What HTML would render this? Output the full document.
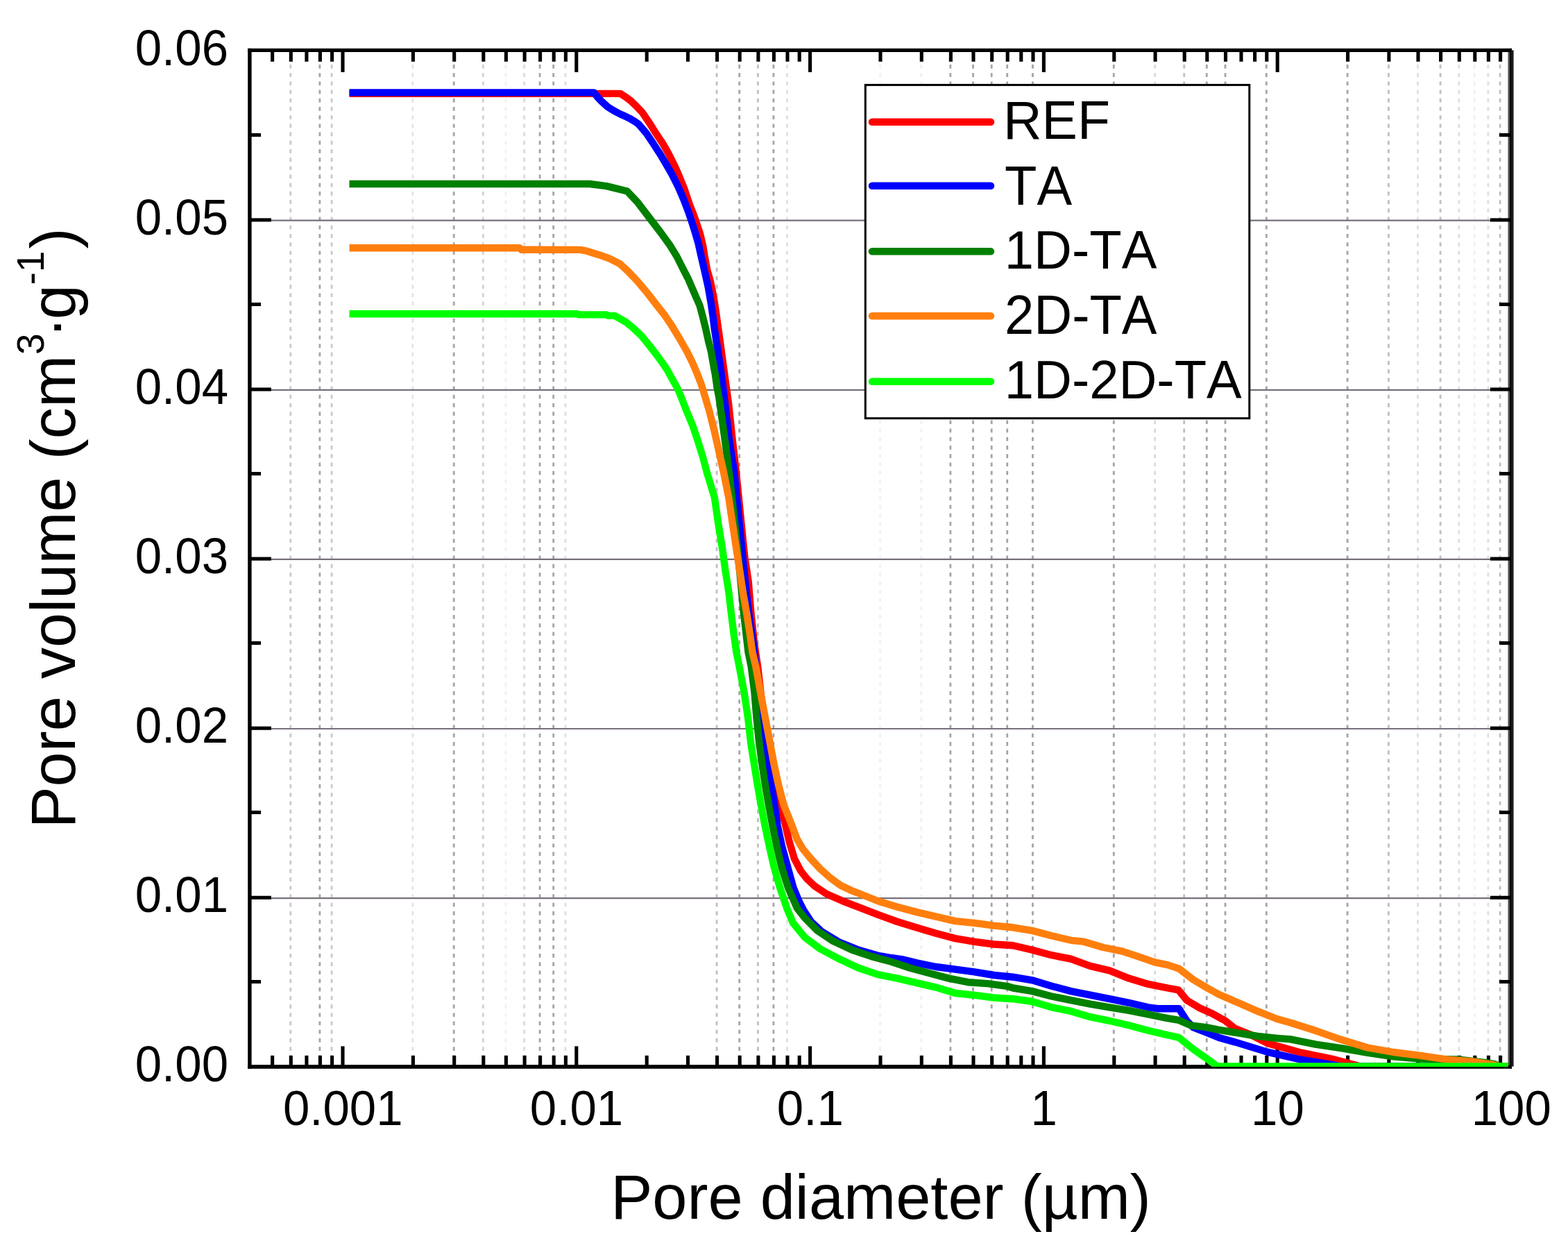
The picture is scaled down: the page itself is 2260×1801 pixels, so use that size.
<!DOCTYPE html>
<html lang="en"><head><meta charset="utf-8"><title>Pore volume vs pore diameter</title>
<style>html,body{margin:0;padding:0;background:#fff}body{width:2260px;height:1801px}svg{display:block}text{font-family:"Liberation Sans",sans-serif;fill:#000;font-kerning:none}</style></head><body>
<svg width="2260" height="1801" viewBox="0 0 2260 1801">
<rect width="2260" height="1801" fill="#fff"/>
<defs><clipPath id="plot"><rect x="362.6" y="75" width="1811.1" height="1462.0"/></clipPath></defs>
<g fill="none" stroke-dasharray="5.7 6.5" stroke-dashoffset="3.9">
<line x1="418.8" y1="72.5" x2="418.8" y2="1536.5" stroke="#a6a3a6" stroke-width="2.8" stroke-opacity="0.60"/>
<line x1="460.9" y1="72.5" x2="460.9" y2="1536.5" stroke="#a6a3a6" stroke-width="2.8" stroke-opacity="1.00"/>
<line x1="478.1" y1="72.5" x2="478.1" y2="1536.5" stroke="#a6a3a6" stroke-width="2.8" stroke-opacity="0.60"/>
<line x1="594.9" y1="72.5" x2="594.9" y2="1536.5" stroke="#a6a3a6" stroke-width="2.8" stroke-opacity="0.30"/>
<line x1="654.2" y1="72.5" x2="654.2" y2="1536.5" stroke="#a6a3a6" stroke-width="2.8" stroke-opacity="1.00"/>
<line x1="696.3" y1="72.5" x2="696.3" y2="1536.5" stroke="#a6a3a6" stroke-width="2.8" stroke-opacity="0.50"/>
<line x1="728.9" y1="72.5" x2="728.9" y2="1536.5" stroke="#a6a3a6" stroke-width="2.8" stroke-opacity="0.15"/>
<line x1="755.6" y1="72.5" x2="755.6" y2="1536.5" stroke="#a6a3a6" stroke-width="2.8" stroke-opacity="0.40"/>
<line x1="778.1" y1="72.5" x2="778.1" y2="1536.5" stroke="#a6a3a6" stroke-width="2.8" stroke-opacity="1.00"/>
<line x1="797.7" y1="72.5" x2="797.7" y2="1536.5" stroke="#a6a3a6" stroke-width="2.8" stroke-opacity="1.00"/>
<line x1="814.9" y1="72.5" x2="814.9" y2="1536.5" stroke="#a6a3a6" stroke-width="2.8" stroke-opacity="0.35"/>
<line x1="1033.1" y1="72.5" x2="1033.1" y2="1536.5" stroke="#a6a3a6" stroke-width="2.8" stroke-opacity="0.70"/>
<line x1="1065.7" y1="72.5" x2="1065.7" y2="1536.5" stroke="#a6a3a6" stroke-width="2.8" stroke-opacity="1.00"/>
<line x1="1092.4" y1="72.5" x2="1092.4" y2="1536.5" stroke="#a6a3a6" stroke-width="2.8" stroke-opacity="0.70"/>
<line x1="1114.9" y1="72.5" x2="1114.9" y2="1536.5" stroke="#a6a3a6" stroke-width="2.8" stroke-opacity="1.00"/>
<line x1="1134.5" y1="72.5" x2="1134.5" y2="1536.5" stroke="#a6a3a6" stroke-width="2.8" stroke-opacity="0.35"/>
<line x1="1268.5" y1="72.5" x2="1268.5" y2="1536.5" stroke="#a6a3a6" stroke-width="2.8" stroke-opacity="0.15"/>
<line x1="1327.8" y1="72.5" x2="1327.8" y2="1536.5" stroke="#a6a3a6" stroke-width="2.8" stroke-opacity="0.15"/>
<line x1="1369.9" y1="72.5" x2="1369.9" y2="1536.5" stroke="#a6a3a6" stroke-width="2.8" stroke-opacity="1.00"/>
<line x1="1402.5" y1="72.5" x2="1402.5" y2="1536.5" stroke="#a6a3a6" stroke-width="2.8" stroke-opacity="1.00"/>
<line x1="1429.2" y1="72.5" x2="1429.2" y2="1536.5" stroke="#a6a3a6" stroke-width="2.8" stroke-opacity="1.00"/>
<line x1="1451.7" y1="72.5" x2="1451.7" y2="1536.5" stroke="#a6a3a6" stroke-width="2.8" stroke-opacity="1.00"/>
<line x1="1488.5" y1="72.5" x2="1488.5" y2="1536.5" stroke="#a6a3a6" stroke-width="2.8" stroke-opacity="1.00"/>
<line x1="1605.3" y1="72.5" x2="1605.3" y2="1536.5" stroke="#a6a3a6" stroke-width="2.8" stroke-opacity="1.00"/>
<line x1="1664.6" y1="72.5" x2="1664.6" y2="1536.5" stroke="#a6a3a6" stroke-width="2.8" stroke-opacity="0.40"/>
<line x1="1706.7" y1="72.5" x2="1706.7" y2="1536.5" stroke="#a6a3a6" stroke-width="2.8" stroke-opacity="0.70"/>
<line x1="1739.3" y1="72.5" x2="1739.3" y2="1536.5" stroke="#a6a3a6" stroke-width="2.8" stroke-opacity="1.00"/>
<line x1="1766.0" y1="72.5" x2="1766.0" y2="1536.5" stroke="#a6a3a6" stroke-width="2.8" stroke-opacity="1.00"/>
<line x1="1825.3" y1="72.5" x2="1825.3" y2="1536.5" stroke="#a6a3a6" stroke-width="2.8" stroke-opacity="1.00"/>
<line x1="1942.1" y1="72.5" x2="1942.1" y2="1536.5" stroke="#a6a3a6" stroke-width="2.8" stroke-opacity="1.00"/>
<line x1="2001.4" y1="72.5" x2="2001.4" y2="1536.5" stroke="#a6a3a6" stroke-width="2.8" stroke-opacity="0.70"/>
<line x1="2043.5" y1="72.5" x2="2043.5" y2="1536.5" stroke="#a6a3a6" stroke-width="2.8" stroke-opacity="0.35"/>
<line x1="2076.1" y1="72.5" x2="2076.1" y2="1536.5" stroke="#a6a3a6" stroke-width="2.8" stroke-opacity="0.70"/>
<line x1="2102.8" y1="72.5" x2="2102.8" y2="1536.5" stroke="#a6a3a6" stroke-width="2.8" stroke-opacity="0.35"/>
<line x1="2125.3" y1="72.5" x2="2125.3" y2="1536.5" stroke="#a6a3a6" stroke-width="2.8" stroke-opacity="0.15"/>
<line x1="2144.9" y1="72.5" x2="2144.9" y2="1536.5" stroke="#a6a3a6" stroke-width="2.8" stroke-opacity="0.35"/>
<line x1="2162.1" y1="72.5" x2="2162.1" y2="1536.5" stroke="#a6a3a6" stroke-width="2.8" stroke-opacity="0.70"/>
</g>
<g stroke="#77707a" stroke-width="2.2">
<line x1="360.0" y1="317.7" x2="2178.0" y2="317.7"/>
<line x1="360.0" y1="561.8" x2="2178.0" y2="561.8"/>
<line x1="360.0" y1="805.9" x2="2178.0" y2="805.9"/>
<line x1="360.0" y1="1050.0" x2="2178.0" y2="1050.0"/>
<line x1="360.0" y1="1294.1" x2="2178.0" y2="1294.1"/>
</g>
<g fill="#000">
<rect x="357.2" y="69.8" width="1821.7" height="5.2"/>
<rect x="357.2" y="1534.2" width="1821.7" height="5.6"/>
<rect x="357.2" y="69.8" width="5.4" height="1470"/>
<rect x="2173.5" y="75" width="2.8" height="1459.2" fill="#505050"/>
<rect x="2176.1" y="69.8" width="2.8" height="1470"/>
<rect x="2178.8" y="72.4" width="2.8" height="1464.2" fill="#1c1c1c"/>
</g>
<g stroke="#000" stroke-width="5.1">
<line x1="392.6" y1="74" x2="392.6" y2="88.8"/>
<line x1="392.6" y1="1535" x2="392.6" y2="1520.8"/>
<line x1="419.3" y1="74" x2="419.3" y2="88.8"/>
<line x1="419.3" y1="1535" x2="419.3" y2="1520.8"/>
<line x1="441.9" y1="74" x2="441.9" y2="88.8"/>
<line x1="441.9" y1="1535" x2="441.9" y2="1520.8"/>
<line x1="461.4" y1="74" x2="461.4" y2="88.8"/>
<line x1="461.4" y1="1535" x2="461.4" y2="1520.8"/>
<line x1="478.6" y1="74" x2="478.6" y2="88.8"/>
<line x1="478.6" y1="1535" x2="478.6" y2="1520.8"/>
<line x1="494.0" y1="74" x2="494.0" y2="104.0"/>
<line x1="494.0" y1="1535" x2="494.0" y2="1507.4"/>
<line x1="595.4" y1="74" x2="595.4" y2="88.8"/>
<line x1="595.4" y1="1535" x2="595.4" y2="1520.8"/>
<line x1="654.7" y1="74" x2="654.7" y2="88.8"/>
<line x1="654.7" y1="1535" x2="654.7" y2="1520.8"/>
<line x1="696.8" y1="74" x2="696.8" y2="88.8"/>
<line x1="696.8" y1="1535" x2="696.8" y2="1520.8"/>
<line x1="729.4" y1="74" x2="729.4" y2="88.8"/>
<line x1="729.4" y1="1535" x2="729.4" y2="1520.8"/>
<line x1="756.1" y1="74" x2="756.1" y2="88.8"/>
<line x1="756.1" y1="1535" x2="756.1" y2="1520.8"/>
<line x1="778.6" y1="74" x2="778.6" y2="88.8"/>
<line x1="778.6" y1="1535" x2="778.6" y2="1520.8"/>
<line x1="798.2" y1="74" x2="798.2" y2="88.8"/>
<line x1="798.2" y1="1535" x2="798.2" y2="1520.8"/>
<line x1="815.4" y1="74" x2="815.4" y2="88.8"/>
<line x1="815.4" y1="1535" x2="815.4" y2="1520.8"/>
<line x1="830.8" y1="74" x2="830.8" y2="104.0"/>
<line x1="830.8" y1="1535" x2="830.8" y2="1507.4"/>
<line x1="932.2" y1="74" x2="932.2" y2="88.8"/>
<line x1="932.2" y1="1535" x2="932.2" y2="1520.8"/>
<line x1="991.5" y1="74" x2="991.5" y2="88.8"/>
<line x1="991.5" y1="1535" x2="991.5" y2="1520.8"/>
<line x1="1033.6" y1="74" x2="1033.6" y2="88.8"/>
<line x1="1033.6" y1="1535" x2="1033.6" y2="1520.8"/>
<line x1="1066.2" y1="74" x2="1066.2" y2="88.8"/>
<line x1="1066.2" y1="1535" x2="1066.2" y2="1520.8"/>
<line x1="1092.9" y1="74" x2="1092.9" y2="88.8"/>
<line x1="1092.9" y1="1535" x2="1092.9" y2="1520.8"/>
<line x1="1115.4" y1="74" x2="1115.4" y2="88.8"/>
<line x1="1115.4" y1="1535" x2="1115.4" y2="1520.8"/>
<line x1="1135.0" y1="74" x2="1135.0" y2="88.8"/>
<line x1="1135.0" y1="1535" x2="1135.0" y2="1520.8"/>
<line x1="1152.2" y1="74" x2="1152.2" y2="88.8"/>
<line x1="1152.2" y1="1535" x2="1152.2" y2="1520.8"/>
<line x1="1167.6" y1="74" x2="1167.6" y2="104.0"/>
<line x1="1167.6" y1="1535" x2="1167.6" y2="1507.4"/>
<line x1="1269.0" y1="74" x2="1269.0" y2="88.8"/>
<line x1="1269.0" y1="1535" x2="1269.0" y2="1520.8"/>
<line x1="1328.3" y1="74" x2="1328.3" y2="88.8"/>
<line x1="1328.3" y1="1535" x2="1328.3" y2="1520.8"/>
<line x1="1370.4" y1="74" x2="1370.4" y2="88.8"/>
<line x1="1370.4" y1="1535" x2="1370.4" y2="1520.8"/>
<line x1="1403.0" y1="74" x2="1403.0" y2="88.8"/>
<line x1="1403.0" y1="1535" x2="1403.0" y2="1520.8"/>
<line x1="1429.7" y1="74" x2="1429.7" y2="88.8"/>
<line x1="1429.7" y1="1535" x2="1429.7" y2="1520.8"/>
<line x1="1452.2" y1="74" x2="1452.2" y2="88.8"/>
<line x1="1452.2" y1="1535" x2="1452.2" y2="1520.8"/>
<line x1="1471.8" y1="74" x2="1471.8" y2="88.8"/>
<line x1="1471.8" y1="1535" x2="1471.8" y2="1520.8"/>
<line x1="1489.0" y1="74" x2="1489.0" y2="88.8"/>
<line x1="1489.0" y1="1535" x2="1489.0" y2="1520.8"/>
<line x1="1504.4" y1="74" x2="1504.4" y2="104.0"/>
<line x1="1504.4" y1="1535" x2="1504.4" y2="1507.4"/>
<line x1="1605.8" y1="74" x2="1605.8" y2="88.8"/>
<line x1="1605.8" y1="1535" x2="1605.8" y2="1520.8"/>
<line x1="1665.1" y1="74" x2="1665.1" y2="88.8"/>
<line x1="1665.1" y1="1535" x2="1665.1" y2="1520.8"/>
<line x1="1707.2" y1="74" x2="1707.2" y2="88.8"/>
<line x1="1707.2" y1="1535" x2="1707.2" y2="1520.8"/>
<line x1="1739.8" y1="74" x2="1739.8" y2="88.8"/>
<line x1="1739.8" y1="1535" x2="1739.8" y2="1520.8"/>
<line x1="1766.5" y1="74" x2="1766.5" y2="88.8"/>
<line x1="1766.5" y1="1535" x2="1766.5" y2="1520.8"/>
<line x1="1789.0" y1="74" x2="1789.0" y2="88.8"/>
<line x1="1789.0" y1="1535" x2="1789.0" y2="1520.8"/>
<line x1="1808.6" y1="74" x2="1808.6" y2="88.8"/>
<line x1="1808.6" y1="1535" x2="1808.6" y2="1520.8"/>
<line x1="1825.8" y1="74" x2="1825.8" y2="88.8"/>
<line x1="1825.8" y1="1535" x2="1825.8" y2="1520.8"/>
<line x1="1841.2" y1="74" x2="1841.2" y2="104.0"/>
<line x1="1841.2" y1="1535" x2="1841.2" y2="1507.4"/>
<line x1="1942.6" y1="74" x2="1942.6" y2="88.8"/>
<line x1="1942.6" y1="1535" x2="1942.6" y2="1520.8"/>
<line x1="2001.9" y1="74" x2="2001.9" y2="88.8"/>
<line x1="2001.9" y1="1535" x2="2001.9" y2="1520.8"/>
<line x1="2044.0" y1="74" x2="2044.0" y2="88.8"/>
<line x1="2044.0" y1="1535" x2="2044.0" y2="1520.8"/>
<line x1="2076.6" y1="74" x2="2076.6" y2="88.8"/>
<line x1="2076.6" y1="1535" x2="2076.6" y2="1520.8"/>
<line x1="2103.3" y1="74" x2="2103.3" y2="88.8"/>
<line x1="2103.3" y1="1535" x2="2103.3" y2="1520.8"/>
<line x1="2125.8" y1="74" x2="2125.8" y2="88.8"/>
<line x1="2125.8" y1="1535" x2="2125.8" y2="1520.8"/>
<line x1="2145.4" y1="74" x2="2145.4" y2="88.8"/>
<line x1="2145.4" y1="1535" x2="2145.4" y2="1520.8"/>
<line x1="2162.6" y1="74" x2="2162.6" y2="88.8"/>
<line x1="2162.6" y1="1535" x2="2162.6" y2="1520.8"/>
<line x1="361" y1="194.5" x2="376.0" y2="194.5"/>
<line x1="2177" y1="194.5" x2="2161.0" y2="194.5"/>
<line x1="361" y1="316.9" x2="390.9" y2="316.9"/>
<line x1="2177" y1="316.9" x2="2147.9" y2="316.9"/>
<line x1="361" y1="438.5" x2="376.0" y2="438.5"/>
<line x1="2177" y1="438.5" x2="2161.0" y2="438.5"/>
<line x1="361" y1="561.0" x2="390.9" y2="561.0"/>
<line x1="2177" y1="561.0" x2="2147.9" y2="561.0"/>
<line x1="361" y1="682.5" x2="376.0" y2="682.5"/>
<line x1="2177" y1="682.5" x2="2161.0" y2="682.5"/>
<line x1="361" y1="805.1" x2="390.9" y2="805.1"/>
<line x1="2177" y1="805.1" x2="2147.9" y2="805.1"/>
<line x1="361" y1="926.5" x2="376.0" y2="926.5"/>
<line x1="2177" y1="926.5" x2="2161.0" y2="926.5"/>
<line x1="361" y1="1049.2" x2="390.9" y2="1049.2"/>
<line x1="2177" y1="1049.2" x2="2147.9" y2="1049.2"/>
<line x1="361" y1="1170.5" x2="376.0" y2="1170.5"/>
<line x1="2177" y1="1170.5" x2="2161.0" y2="1170.5"/>
<line x1="361" y1="1293.3" x2="390.9" y2="1293.3"/>
<line x1="2177" y1="1293.3" x2="2147.9" y2="1293.3"/>
<line x1="361" y1="1414.5" x2="376.0" y2="1414.5"/>
<line x1="2177" y1="1414.5" x2="2161.0" y2="1414.5"/>
</g>
<g clip-path="url(#plot)" fill="none" stroke-width="10.4" stroke-linejoin="round" stroke-linecap="butt">
<polyline stroke="#ff0000" points="503.5,134.7 894.2,134.9 898.8,137.8 903.5,141.1 908.1,144.4 912.8,148.8 917.4,153.2 926.0,162.3 936.0,177.1 945.3,191.9 955.3,206.8 963.7,221.6 971.2,236.5 977.5,250.5 986.4,272.3 993.8,294.5 999.7,309.4 1002.7,317.9 1008.6,335.3 1013.1,353.9 1015.5,368.7 1019.2,388.6 1023.4,403.4 1026.6,418.2 1029.6,434.6 1032.2,451.6 1034.8,470.2 1037.4,488.7 1043.5,533.6 1050.1,581.8 1055.7,633.8 1061.0,680.0 1066.6,735.7 1073.1,800.6 1078.7,837.7 1082.5,884.1 1087.6,930.5 1092.1,960.0 1097.4,1006.4 1102.5,1052.8 1110.6,1099.1 1119.8,1145.5 1131.6,1186.5 1137.5,1212.3 1144.9,1237.1 1154.2,1254.9 1162.7,1265.7 1173.5,1276.1 1191.3,1288.0 1213.6,1297.8 1235.8,1306.3 1265.5,1317.8 1293.4,1328.0 1321.2,1336.4 1349.0,1344.7 1376.8,1352.1 1404.7,1356.8 1432.5,1360.5 1460.0,1362.2 1487.8,1368.7 1515.7,1376.2 1543.5,1381.7 1571.3,1391.9 1599.1,1398.4 1627.0,1409.6 1654.8,1417.9 1682.6,1423.5 1698.4,1426.3 1710.5,1441.1 1729.0,1452.2 1747.6,1460.6 1766.1,1470.8 1780.0,1481.9 1803.2,1491.2 1826.4,1502.9 1872.8,1516.1 1919.1,1525.5 1960.9,1536.5 2178.0,1536.5"/>
<polyline stroke="#0000ff" points="503.5,133.4 856.0,133.4 861.7,140.4 866.4,145.3 875.7,153.8 884.9,159.6 894.2,164.5 900.0,167.1 907.4,170.6 914.8,174.9 920.8,179.3 931.5,191.9 941.6,206.8 951.2,221.6 960.1,236.5 968.3,250.8 977.8,269.7 985.3,287.1 992.3,305.3 997.5,320.9 1002.0,335.3 1006.4,350.2 1010.6,369.0 1016.0,392.3 1020.9,414.5 1024.8,436.8 1027.5,455.3 1029.8,473.9 1032.1,488.7 1039.0,533.6 1045.0,581.8 1051.0,633.8 1058.3,680.0 1062.9,726.4 1069.4,791.3 1074.0,837.7 1079.3,884.1 1086.3,930.5 1089.5,960.0 1093.0,1000.0 1096.6,1034.2 1100.0,1070.0 1105.7,1099.7 1111.5,1129.4 1116.3,1159.1 1120.7,1189.5 1127.1,1219.7 1135.3,1249.4 1143.5,1279.0 1151.2,1297.6 1158.0,1311.0 1169.1,1328.0 1183.9,1341.9 1209.9,1357.7 1237.7,1368.8 1265.5,1376.8 1284.1,1380.0 1302.6,1382.7 1321.2,1387.4 1349.0,1393.0 1376.8,1396.7 1404.7,1400.4 1432.5,1405.0 1460.0,1407.7 1487.8,1412.3 1515.7,1420.7 1543.5,1428.1 1571.3,1433.7 1599.1,1439.2 1627.0,1444.8 1654.8,1451.3 1667.8,1453.2 1699.3,1453.2 1710.5,1470.8 1719.7,1480.1 1738.3,1487.5 1756.8,1494.9 1780.0,1501.4 1826.4,1515.6 1872.8,1526.3 1919.1,1533.9 1933.0,1536.5 2178.0,1536.5"/>
<polyline stroke="#008000" points="503.5,265.0 850.0,265.0 874.2,268.1 903.9,275.5 918.7,291.1 937.3,315.5 953.0,336.0 965.0,352.6 975.5,369.5 983.5,385.5 992.0,402.0 1003.8,429.4 1008.5,440.0 1012.5,454.8 1017.2,473.8 1021.2,492.0 1025.0,506.8 1028.2,525.3 1031.0,540.2 1033.6,558.7 1036.3,572.5 1041.0,605.9 1045.8,641.2 1050.6,678.3 1055.0,717.0 1059.0,754.0 1063.0,791.0 1067.5,837.0 1072.0,884.0 1078.5,939.7 1082.7,960.0 1087.4,997.1 1090.5,1034.2 1094.2,1070.0 1098.3,1099.7 1102.7,1129.4 1107.9,1159.1 1113.5,1189.5 1119.7,1219.7 1126.6,1249.4 1136.0,1279.0 1149.0,1308.7 1159.8,1322.4 1178.3,1341.0 1200.6,1355.8 1228.4,1368.8 1256.3,1378.1 1284.1,1385.5 1311.9,1394.8 1339.7,1402.2 1367.6,1409.6 1395.4,1415.2 1423.2,1417.1 1451.1,1420.8 1460.0,1423.5 1487.8,1428.1 1515.7,1435.5 1543.5,1441.1 1571.3,1446.7 1599.1,1451.3 1627.0,1455.9 1654.8,1461.5 1682.6,1467.1 1699.3,1469.9 1716.0,1477.3 1738.3,1480.1 1756.8,1483.8 1784.7,1488.4 1812.5,1493.0 1840.3,1495.8 1860.0,1497.4 1897.1,1504.8 1934.2,1510.4 1971.3,1516.9 2008.4,1522.4 2045.5,1525.5 2101.0,1526.5 2140.0,1531.0 2155.0,1533.5 2163.0,1536.5 2178.0,1536.5"/>
<polyline stroke="#ff7f0e" points="503.5,357.3 749.0,357.3 751.5,359.8 836.0,359.9 844.8,361.4 852.3,363.7 863.4,367.2 878.2,372.4 893.1,379.9 904.2,389.9 919.1,405.5 933.9,423.3 947.2,440.5 958.5,454.8 968.5,469.7 979.7,488.2 990.3,506.8 997.6,521.6 1004.1,536.5 1009.9,551.3 1013.2,561.4 1022.6,592.9 1030.0,622.6 1037.5,656.0 1042.9,680.0 1050.3,717.1 1055.8,754.2 1061.4,791.3 1066.0,821.0 1070.7,852.5 1076.3,884.1 1080.9,913.8 1084.5,939.7 1089.3,960.0 1096.0,997.1 1103.0,1034.2 1109.8,1070.0 1115.3,1099.7 1121.7,1129.4 1129.4,1159.1 1141.5,1189.5 1148.6,1208.6 1156.8,1222.7 1167.2,1235.6 1182.0,1251.6 1196.9,1265.0 1211.7,1275.7 1226.6,1282.8 1240.0,1288.0 1265.5,1298.3 1293.4,1306.7 1321.2,1314.1 1349.0,1320.6 1376.8,1327.1 1404.7,1329.9 1432.5,1333.6 1460.0,1336.3 1487.8,1340.9 1515.7,1348.3 1543.5,1354.8 1562.0,1356.7 1589.9,1365.0 1617.7,1370.6 1645.5,1379.9 1664.1,1386.4 1682.6,1390.1 1699.3,1395.6 1719.7,1411.4 1738.3,1422.5 1756.8,1432.7 1784.7,1444.8 1812.5,1456.9 1840.3,1468.0 1860.0,1473.5 1897.1,1485.3 1934.2,1498.3 1971.3,1509.5 2008.4,1516.0 2045.5,1520.6 2082.6,1526.2 2100.0,1527.8 2122.0,1529.5 2138.0,1532.0 2152.0,1534.0 2160.0,1536.5 2178.0,1536.5"/>
<polyline stroke="#00ff00" points="503.5,452.2 832.0,452.2 834.0,453.4 874.0,453.4 876.0,454.7 886.0,454.9 891.1,457.8 902.3,464.1 913.4,473.2 924.5,483.8 935.7,497.5 946.8,511.8 954.2,522.0 961.6,532.8 969.1,546.5 976.5,559.5 980.5,568.8 989.2,591.1 998.5,613.4 1005.9,635.6 1013.4,659.7 1018.7,680.0 1029.9,717.1 1035.3,754.2 1041.3,791.3 1045.3,821.0 1050.3,852.5 1054.0,884.1 1057.7,913.8 1061.4,939.7 1065.5,960.0 1072.5,997.1 1078.1,1034.2 1082.1,1070.0 1086.8,1099.7 1091.6,1129.4 1096.8,1159.1 1102.5,1189.5 1108.9,1219.7 1115.6,1249.4 1124.2,1279.0 1134.2,1308.7 1143.1,1329.9 1159.8,1350.3 1182.0,1367.0 1209.9,1381.8 1237.7,1394.8 1265.5,1404.1 1293.4,1409.6 1321.2,1416.1 1349.0,1422.6 1376.8,1431.0 1404.7,1433.8 1432.5,1437.5 1460.0,1439.2 1487.8,1443.0 1515.7,1451.3 1543.5,1456.9 1571.3,1465.2 1599.1,1470.8 1627.0,1477.3 1654.8,1484.7 1682.6,1491.2 1699.3,1494.9 1719.7,1511.6 1738.3,1524.6 1751.3,1533.9 1755.0,1536.5 2178.0,1536.5"/>
</g>
<rect x="1247.3" y="122.4" width="553.5" height="480.3" fill="#fff" stroke="#000" stroke-width="3"/>
<g stroke-width="10.5" stroke-linecap="round">
<line x1="1257" y1="175.7" x2="1428" y2="175.7" stroke="#ff0000"/>
<line x1="1257" y1="267.8" x2="1428" y2="267.8" stroke="#0000ff"/>
<line x1="1257" y1="362.3" x2="1428" y2="362.3" stroke="#008000"/>
<line x1="1257" y1="455.2" x2="1428" y2="455.2" stroke="#ff7f0e"/>
<line x1="1257" y1="549.8" x2="1428" y2="549.8" stroke="#00ff00"/>
</g>
<text transform="translate(1446.0 199.6) scale(1 1.020)" font-size="77.0">REF</text>
<text transform="translate(1448.0 294.8) scale(1 1.050)" font-size="76.0">TA</text>
<text transform="translate(1447.8 387.0) scale(1 1.030)" font-size="76.0">1D-TA</text>
<text transform="translate(1448.0 481.3) scale(1 1.050)" font-size="76.0">2D-TA</text>
<text transform="translate(1447.8 573.8) scale(1 1.030)" font-size="76.0">1D-2D-TA</text>
<g font-size="69" text-anchor="middle">
<text transform="translate(494.2 1620.6) scale(1 1.02)">0.001</text>
<text transform="translate(831.0 1620.6) scale(1 1.02)">0.01</text>
<text transform="translate(1167.8 1620.6) scale(1 1.02)">0.1</text>
<text transform="translate(1504.6 1620.6) scale(1 1.02)">1</text>
<text transform="translate(1841.4 1620.6) scale(1 1.02)">10</text>
<text transform="translate(2178.2 1620.6) scale(1 1.02)">100</text>
</g>
<g font-size="69" text-anchor="end">
<text transform="translate(329 93.8) scale(1 1.05)">0.06</text>
<text transform="translate(329 337.9) scale(1 1.05)">0.05</text>
<text transform="translate(329 582.0) scale(1 1.05)">0.04</text>
<text transform="translate(329 826.1) scale(1 1.05)">0.03</text>
<text transform="translate(329 1070.2) scale(1 1.05)">0.02</text>
<text transform="translate(329 1314.3) scale(1 1.05)">0.01</text>
<text transform="translate(329 1558.4) scale(1 1.05)">0.00</text>
</g>
<text x="1269.5" y="1756" font-size="90.2" text-anchor="middle">Pore diameter (µm)</text>
<text transform="translate(107.5 0) rotate(-90)" font-size="90.2"><tspan x="-1193.6">Pore volume (cm</tspan><tspan x="-511" font-size="55" dy="-44.5">3</tspan><tspan x="-486.8" dy="44.5">·</tspan><tspan x="-460.3">g</tspan><tspan x="-410.5" font-size="55" dy="-44.5">-1</tspan><tspan x="-358.5" dy="44.5">)</tspan></text>
</svg></body></html>
